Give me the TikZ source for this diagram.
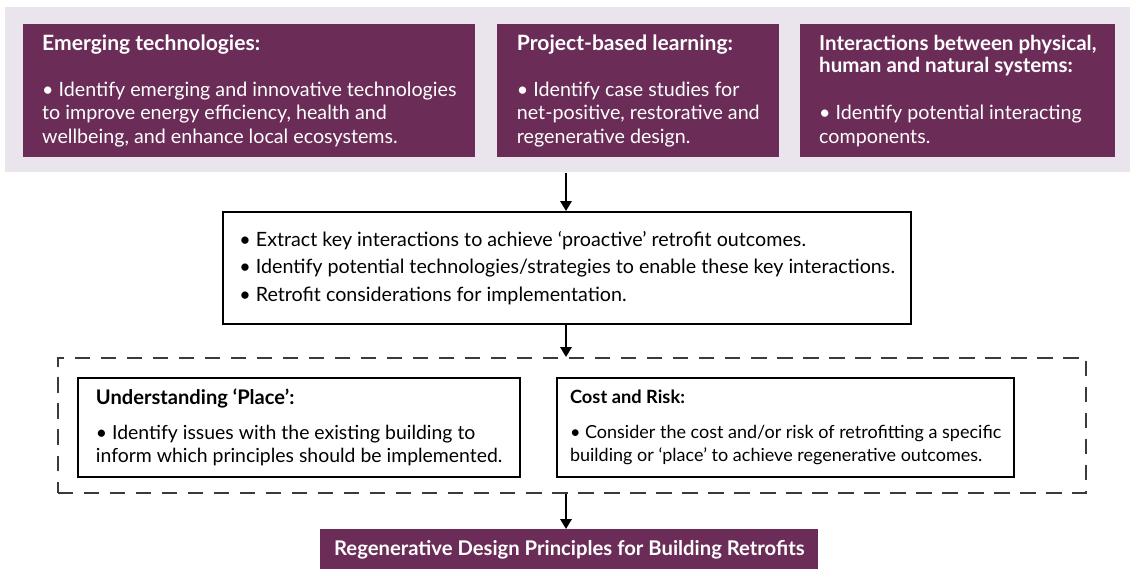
\documentclass[tikz,border=0pt]{standalone}
\usepackage{fontspec}
\setmainfont{Lato}
\usepackage{xcolor}
\usepackage{tikz}
\usetikzlibrary{positioning, arrows.meta}
\definecolor{plum}{HTML}{6B2D57}
\definecolor{haze}{HTML}{EAE5EC}
\definecolor{frame}{HTML}{3A3A3A}

\begin{document}
\begin{tikzpicture}[
    x=0.025cm, y=-0.025cm,
    topbox/.style={rectangle, fill=plum, text=white, anchor=north west, align=left, inner sep=0pt, minimum height=3.325cm, font=\fontsize{14}{16.7}\selectfont},
    stepbox/.style={rectangle, draw=black, line width=1.6pt, fill=white, anchor=north west, align=left, inner sep=0pt},
    goalbox/.style={rectangle, fill=plum, text=white, anchor=north west, inner sep=0pt, font=\fontsize{14.4}{16}\selectfont\bfseries},
    arr/.style={-{Triangle[length=7pt, width=8pt]}, line width=1.4pt, black}
]
\path[fill=white, use as bounding box] (0,0) rectangle (1130,569);
\coordinate (axis) at (566,0);

\node[fill=haze, anchor=north west, inner sep=0pt, minimum width=28.125cm, minimum height=4.125cm] (band) at (5,7) {};

\node[topbox, minimum width=11.3cm] (emerg) at (23,24) {%
  {\fontsize{15}{16.7}\selectfont\bfseries Emerging technologies:}\\[16pt]
  • Identify emerging and innovative technologies\\
  to improve energy efficiency, health and\\
  wellbeing, and enhance local ecosystems.};
\node[topbox, minimum width=7.05cm] (proj) at (497,24) {%
  {\fontsize{15}{16.7}\selectfont\bfseries Project-based learning:}\\[16pt]
  • Identify case studies for\\
  net-positive, restorative and\\
  regenerative design.};
\node[topbox, minimum width=7.875cm] (inter) at (800,24) {%
  {\fontsize{14.6}{16.7}\selectfont\bfseries Interactions between physical,}\\[-1pt]
  {\fontsize{14.6}{16.7}\selectfont\bfseries human and natural systems:}\\[17pt]
  • Identify potential interacting\\
  components.};

\node[stepbox, minimum width=17.2cm, minimum height=2.8cm, font=\fontsize{14}{16.7}\selectfont] (extract) at (222,211) {%
  • Extract key interactions to achieve ‘proactive’ retrofit outcomes.\\[3pt]
  • Identify potential technologies/strategies to enable these key interactions.\\[3pt]
  • Retrofit considerations for implementation.};

\node[draw=frame, dash pattern=on 11pt off 7.5pt, line width=1.1pt, anchor=north west, inner sep=0pt, minimum width=25.7cm, minimum height=3.375cm] (grp) at (57,357) {};

\node[stepbox, minimum width=11.05cm, minimum height=2.475cm, font=\fontsize{13.8}{16.4}\selectfont] (place) at (77,377) {%
  {\fontsize{14.3}{16.4}\selectfont\bfseries Understanding ‘Place’:}\\[8.5pt]
  • Identify issues with the existing building to\\
  inform which principles should be implemented.};
\node[stepbox, minimum width=11.425cm, minimum height=2.475cm, font=\fontsize{12.8}{16.4}\selectfont] (risk) at (556,377) {%
  {\fontsize{13}{16.4}\selectfont\bfseries Cost and Risk:}\\[8.5pt]
  • Consider the cost and/or risk of retrofitting a specific\\
  building or ‘place’ to achieve regenerative outcomes.};

\node[goalbox, minimum width=12.45cm, minimum height=1cm] (goal) at (320,529) {Regenerative Design Principles for Building Retrofits};

\draw[arr] (band.south -| axis) -- (extract.north -| axis);
\draw[arr] (extract.south -| axis) -- (grp.north -| axis);
\draw[arr] (grp.south -| axis) -- (goal.north -| axis);
\end{tikzpicture}
\end{document}
